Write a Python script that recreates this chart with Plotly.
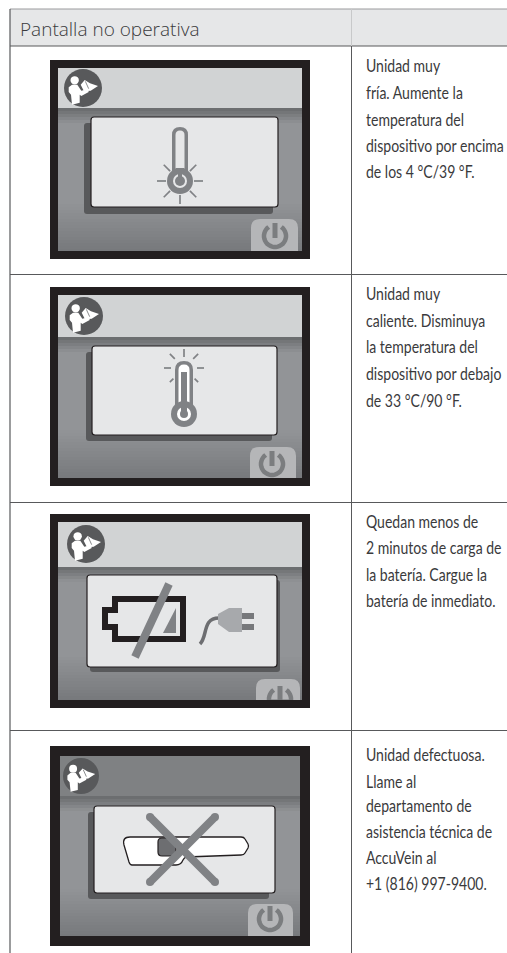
import math
import plotly.graph_objects as go

WIDTH, HEIGHT = 507, 953

HEADER_TITLE = "Pantalla no operativa"
ROW_TEXT_COLD = ["Unidad muy", "fría. Aumente la", "temperatura del", "dispositivo por encima", "de los 4 °C/39 °F."]
ROW_TEXT_HOT = ["Unidad muy", "caliente. Disminuya", "la temperatura del", "dispositivo por debajo", "de 33 °C/90 °F."]
ROW_TEXT_BATTERY = ["Quedan menos de", "2 minutos de carga de", "la batería. Cargue la", "batería de inmediato."]
ROW_TEXT_FAULT = ["Unidad defectuosa.", "Llame al", "departamento de", "asistencia técnica de", "AccuVein al", "+1 (816) 997-9400."]

ROW_TEXTS = [ROW_TEXT_COLD, ROW_TEXT_HOT, ROW_TEXT_BATTERY, ROW_TEXT_FAULT]
ROW_TEXT_Y = [
    [65, 92, 119, 145, 171],
    [293, 320, 346, 373, 400],
    [521, 547, 574, 600],
    [754, 781, 805, 831, 857, 883],
]

LINE = "#58595b"
HEAD_BG = "#e6e7e8"
BLACK = "#231f20"
BAND = "#d1d3d4"
PANEL = "#e6e7e8"
SHADOW = "#58595b"
GLYPH = "#808285"
TAB = "#b5b6b8"
TEXT = "#3a3a3c"

shapes = []


def rect(x0, y0, x1, y1, fill):
    shapes.append(dict(type="rect", xref="x", yref="y", x0=x0, y0=y0, x1=x1, y1=y1,
                       fillcolor=fill, line=dict(width=0), layer="above"))


def seg(x0, y0, x1, y1, color, width):
    shapes.append(dict(type="line", xref="x", yref="y", x0=x0, y0=y0, x1=x1, y1=y1,
                       line=dict(color=color, width=width), layer="above"))


def path(d, fill=None, color=None, width=0):
    shapes.append(dict(type="path", xref="x", yref="y", path=d,
                       fillcolor=fill if fill else "rgba(0,0,0,0)",
                       line=dict(color=color if color else "rgba(0,0,0,0)", width=width), layer="above"))


def circle(cx, cy, r, fill):
    shapes.append(dict(type="circle", xref="x", yref="y", x0=cx - r, y0=cy - r, x1=cx + r, y1=cy + r,
                       fillcolor=fill, line=dict(width=0), layer="above"))


def rrect(x0, y0, x1, y1, r):
    return (f"M{x0+r},{y0} L{x1-r},{y0} Q{x1},{y0} {x1},{y0+r} L{x1},{y1-r} Q{x1},{y1} {x1-r},{y1} "
            f"L{x0+r},{y1} Q{x0},{y1} {x0},{y1-r} L{x0},{y0+r} Q{x0},{y0} {x0+r},{y0} Z")


def poly(pts):
    return "M" + " L".join(f"{x:.1f},{y:.1f}" for x, y in pts) + " Z"


def mix(a, b, t):
    return "rgb(%d,%d,%d)" % tuple(round(a[i] + (b[i] - a[i]) * t) for i in range(3))


PERSON = [(40, 78), (50, 70), (66, 70), (78, 88), (98, 83), (100, 92), (78, 104), (73, 100), (73, 124), (50, 130), (47, 100), (40, 92)]
BOOK = [(76, 70), (88, 56), (104, 66), (128, 74), (106, 88), (86, 90), (82, 82)]
BOOK_FOLD = [(90, 60), (100, 82)]


def book_icon(cx, cy, r):
    s = r / 19.0
    f = lambda p: (cx + (p[0] - 83) / 3 * s, cy + (p[1] - 80) / 3 * s)
    circle(cx, cy, r, SHADOW)
    circle(*f((58, 57)), 4.2 * s, "#ffffff")
    path(poly([f(p) for p in PERSON]), fill="#ffffff")
    path(poly([f(p) for p in BOOK]), fill="#ffffff")
    a, b = f(BOOK_FOLD[0]), f(BOOK_FOLD[1])
    seg(a[0], a[1], b[0], b[1], "#8a8c8e", 1)


def power_tab(x0, x1, top, bottom, cx, cy):
    r = 9
    path(f"M{x0},{bottom} L{x0},{top+r} Q{x0},{top} {x0+r},{top} L{x1-r},{top} Q{x1},{top} {x1},{top+r} L{x1},{bottom} Z", fill=TAB)
    pts = [(cx + 11 * math.sin(math.radians(d)), cy - 11 * math.cos(math.radians(d))) for d in range(35, 326, 10)]
    pts = [p for p in pts if p[1] < bottom + 3]
    path("M" + " L".join(f"{x:.1f},{y:.1f}" for x, y in pts), color="#7b7d7f", width=4.5)
    seg(cx, cy - 13, cx, cy + 2, "#7b7d7f", 5)


def screen(outer, inner, band_bottom, panel, shadow, icon, tab, dark_top=False):
    ox0, oy0, ox1, oy1 = outer
    ix0, iy0, ix1, iy1 = inner
    rect(ox0, oy0, ox1, oy1, BLACK)
    top_c, mid_c, bot_c = (108, 110, 112), (146, 148, 151), (118, 120, 123)
    y = band_bottom
    span = iy1 - band_bottom
    while y < iy1:
        t = (y - band_bottom) / span
        if t < 0.10:
            c = mix(top_c, mid_c, t / 0.10)
        elif t < 0.65:
            c = mix(mid_c, mid_c, 0)
        else:
            c = mix(mid_c, bot_c, (t - 0.65) / 0.35)
        rect(ix0, y, ix1, min(y + 3, iy1), c)
        y += 3
    rect(ix0, iy0, ix1, band_bottom, "#7f8183" if dark_top else BAND)
    if shadow:
        path(rrect(*shadow, 3), fill=SHADOW)
    path(rrect(*panel, 3), fill=PANEL, color=BLACK, width=1.2)
    book_icon(*icon)
    power_tab(*tab)
    rect(ox0, oy0, ox1, iy0, BLACK)
    rect(ox0, iy1, ox1, oy1, BLACK)
    rect(ox0, oy0, ix0, oy1, BLACK)
    rect(ix1, oy0, ox1, oy1, BLACK)


def rays(cx, cy, r0, r1, angles, width=1.7):
    for d in angles:
        a = math.radians(d)
        seg(cx + r0 * math.cos(a), cy + r0 * math.sin(a), cx + r1 * math.cos(a), cy + r1 * math.sin(a), GLYPH, width)


def thermometer(cx, top, bulb_y, hot):
    hw = 9 if hot else 8
    path(f"M{cx-hw},{bulb_y} L{cx-hw},{top+hw} Q{cx-hw},{top} {cx},{top} Q{cx+hw},{top} {cx+hw},{top+hw} L{cx+hw},{bulb_y} Z", fill=GLYPH)
    hwi = hw - 3.5
    path(f"M{cx-hwi},{bulb_y} L{cx-hwi},{top+hw} Q{cx-hwi},{top+3.5} {cx},{top+3.5} Q{cx+hwi},{top+3.5} {cx+hwi},{top+hw} L{cx+hwi},{bulb_y} Z", fill="#ffffff" if hot else PANEL)
    circle(cx, bulb_y, 13, GLYPH)
    circle(cx, bulb_y, 7, PANEL if not hot else "#ffffff")
    if hot:
        rect(cx - 3, top + 11, cx + 3, bulb_y, GLYPH)
        circle(cx, bulb_y, 4, GLYPH)
    else:
        circle(cx, bulb_y, 5, GLYPH)
        rect(cx - 4.5, bulb_y - 13, cx + 4.5, bulb_y - 7, GLYPH)
        rect(cx - 2, bulb_y - 8, cx + 2, bulb_y - 4, GLYPH)


def battery():
    path("M115,599 L183,599 L183,639 L115,639 L115,627 L105,627 L105,610 L115,610 Z", fill=PANEL, color=BLACK, width=6)
    path("M176,608 L176,633 L163,633 Z", fill=GLYPH)
    seg(169, 584, 135, 657, GLYPH, 8)
    path("M200,644 C208,636 202,618 219,618", color="#6d6e71", width=3.5)
    path("M218,614 L229,608 L242,608 L242,632 L229,632 L218,624 Z", fill="#a7a9ac")
    rect(242, 613, 254, 619, "#77787b")
    rect(242, 624, 254, 630, "#77787b")


def device():
    path("M130,837 L241,837 Q244,837 245,839 L248,844 Q249,846 248,848 L245,853 Q244,855 241,855 "
         "L186,857 Q184,858 183,860 Q181,865 176,865 L132,865 Q130,865 129,862 L124,845 Q122,837 130,837 Z",
         fill="#ffffff", color=BLACK, width=1.3)
    path(rrect(158, 838, 176, 856, 4), fill="#6d6e71", color=BLACK, width=1.2)
    for a, b, c, d in [(150, 817, 215, 882), (215, 817, 150, 882)]:
        seg(a, b, c, d, GLYPH, 8)
        circle(a, b, 4, GLYPH)
        circle(c, d, 4, GLYPH)


rect(10, 9, WIDTH, 46, HEAD_BG)
seg(10, 9, WIDTH, 9, "#9a9b9d", 1)
seg(10, 46, WIDTH, 46, LINE, 1)
seg(10, 9, 10, 953, LINE, 1.2)
seg(351.5, 9, 351.5, 46, "#c8c9ca", 1)
seg(351.5, 46, 351.5, 953, LINE, 1)
for yy in (274.5, 502.5, 730.5):
    seg(10, yy, WIDTH, yy, LINE, 1.2)

screen((50, 60, 310, 259), (58, 68, 302, 251), 108, (91, 117, 278, 207), (84, 123, 273, 214),
       (83, 88, 19), (251, 298, 219, 251, 275, 236))
thermometer(180, 127, 181, False)
rays(180, 181, 14, 23, [0, 45, 90, 135, 180, 225, 315])

screen((50, 287, 310, 486), (58, 295, 302, 478), 337, (92, 346, 277, 435), (86, 352, 272, 441),
       (84, 316, 19), (250, 296, 447, 478, 272, 464))
thermometer(184, 361, 414, True)
rays(184, 368, 13, 20, [180, 0])
rays(184, 368, 11, 19, [-90])
rays(184, 368, 13, 20, [-135, -45])
rays(184, 368, 15, 20, [135, 45])

screen((50, 514, 310, 708), (58, 522, 302, 700), 567, (87, 575, 277, 667), (90, 580, 280, 672),
       (86, 544, 19), (256, 300, 679, 700, 280, 699))
battery()

screen((50, 746, 310, 946), (60, 756, 300, 936), 796, (94, 806, 275, 893), (88, 812, 269, 899),
       (81, 776, 18), (248, 293, 904, 936, 270, 919), dark_top=True)
device()

annotations = [dict(x=18, y=29, xref="x", yref="y", text=HEADER_TITLE, showarrow=False, xanchor="left", yanchor="middle",
                    align="left", font=dict(family="Open Sans", size=19, color=TEXT, weight=300))]
for lines, ys in zip(ROW_TEXTS, ROW_TEXT_Y):
    for t, yy in zip(lines, ys):
        annotations.append(dict(x=364, y=yy, xref="x", yref="y", text=t, showarrow=False, xanchor="left", yanchor="middle",
                                align="left", font=dict(family="Lato", size=18, color=TEXT)))

fig = go.Figure()
fig.update_layout(
    width=WIDTH, height=HEIGHT, autosize=False,
    margin=dict(l=0, r=0, t=0, b=0), paper_bgcolor="#ffffff", plot_bgcolor="#ffffff",
    xaxis=dict(range=[0, WIDTH], visible=False, fixedrange=True),
    yaxis=dict(range=[HEIGHT, 0], visible=False, fixedrange=True),
    shapes=shapes, annotations=annotations, showlegend=False,
)
CONDENSE = """
document.body.style.margin='0';document.body.style.overflow='hidden';
document.querySelectorAll('.annotation').forEach(function(a){
  if(a.getAttribute('data-index')==='0')return;
  var t=a.querySelector('text');
  var w=t.getComputedTextLength()*0.78;
  var x=parseFloat(t.getAttribute('x'))||0;
  var old=t.getAttribute('transform')||'';
  t.setAttribute('transform',old+' translate('+x+',0) scale(0.78,1) translate('+(-x)+',0)');
  a.querySelectorAll('rect').forEach(function(r){r.setAttribute('width',(w+4).toFixed(1));});
});
"""
fig.write_html("out.html", config=dict(displayModeBar=False), post_script=CONDENSE)
